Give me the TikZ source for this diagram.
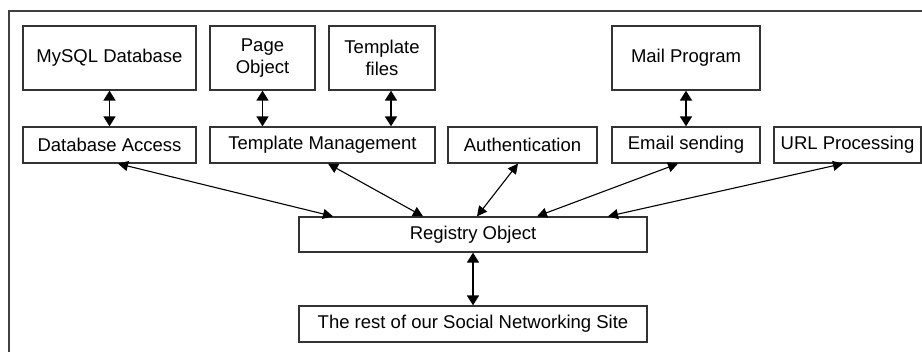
\documentclass[tikz,border=0pt]{standalone}
\usepackage{fontspec}
\setmainfont{Liberation Sans}
\usetikzlibrary{arrows.meta}
\tikzset{
  box/.style={draw=black!80,line width=1.3pt,inner sep=0pt,align=center,
    font=\fontsize{18.5}{22}\selectfont},
  link/.style={{Triangle[length=10pt,width=10pt]}-{Triangle[length=10pt,width=10pt]},line width=1.1pt},
  vlink/.style={{Triangle[length=10pt,width=12pt]}-{Triangle[length=10pt,width=12pt]},line width=1.8pt}
}
\begin{document}
\begin{tikzpicture}[x=1pt,y=-1pt]
    \useasboundingbox (0,0) rectangle (922,352);
    \draw[black!75,line width=2pt] (9,360)--(9,11)--(930,11);
    % top row
    \node[box,minimum width=173pt,minimum height=64pt] (mysql) at (109.5,58) {MySQL Database};
    \node[box,minimum width=105pt,minimum height=64pt] (page) at (262.5,58) {Page\\Object};
    \node[box,minimum width=106pt,minimum height=64pt] (tplfiles) at (382,58) {Template\\files};
    \node[box,minimum width=148pt,minimum height=64pt] (mail) at (686,58) {Mail Program};
    % middle row
    \node[box,minimum width=173pt,minimum height=36pt] (dbaccess) at (109.5,145) {Database Access};
    \node[box,minimum width=225pt,minimum height=36pt] (tplmgmt) at (322.5,145) {Template Management};
    \node[box,minimum width=149pt,minimum height=36pt] (auth) at (522.5,145) {Authentication};
    \node[box,minimum width=148pt,minimum height=36pt] (email) at (686,145) {Email sending};
    \node[box,minimum width=147pt,minimum height=36pt] (url) at (847.5,145) {URL Processing};
    % bottom
    \node[box,minimum width=348pt,minimum height=35pt] (registry) at (473,234.5) {Registry Object};
    \node[box,minimum width=348pt,minimum height=36pt] (rest) at (473,324) {The rest of our Social Networking Site};
    \draw[vlink] (mysql.south)--(dbaccess.north);
    \draw[vlink] (page.south)--(page.south |- tplmgmt.north);
    \draw[vlink] ([xshift=9pt]tplfiles.south)--([xshift=9pt]tplfiles.south |- tplmgmt.north);
    \draw[vlink] (mail.south)--(email.north);
    \draw[vlink] (registry.south)--(rest.north);
    \draw[link] ([xshift=8.5pt]dbaccess.south)--([xshift=-140pt]registry.north);
    \draw[link] ([xshift=5.5pt]tplmgmt.south)--([xshift=-50pt]registry.north);
    \draw[link] ([xshift=-4.5pt]auth.south)--([xshift=4pt]registry.north);
    \draw[link] ([xshift=-8pt]email.south)--([xshift=64pt]registry.north);
    \draw[link] ([xshift=-4.5pt]url.south)--([xshift=135pt]registry.north);
  \end{tikzpicture}
\end{document}
